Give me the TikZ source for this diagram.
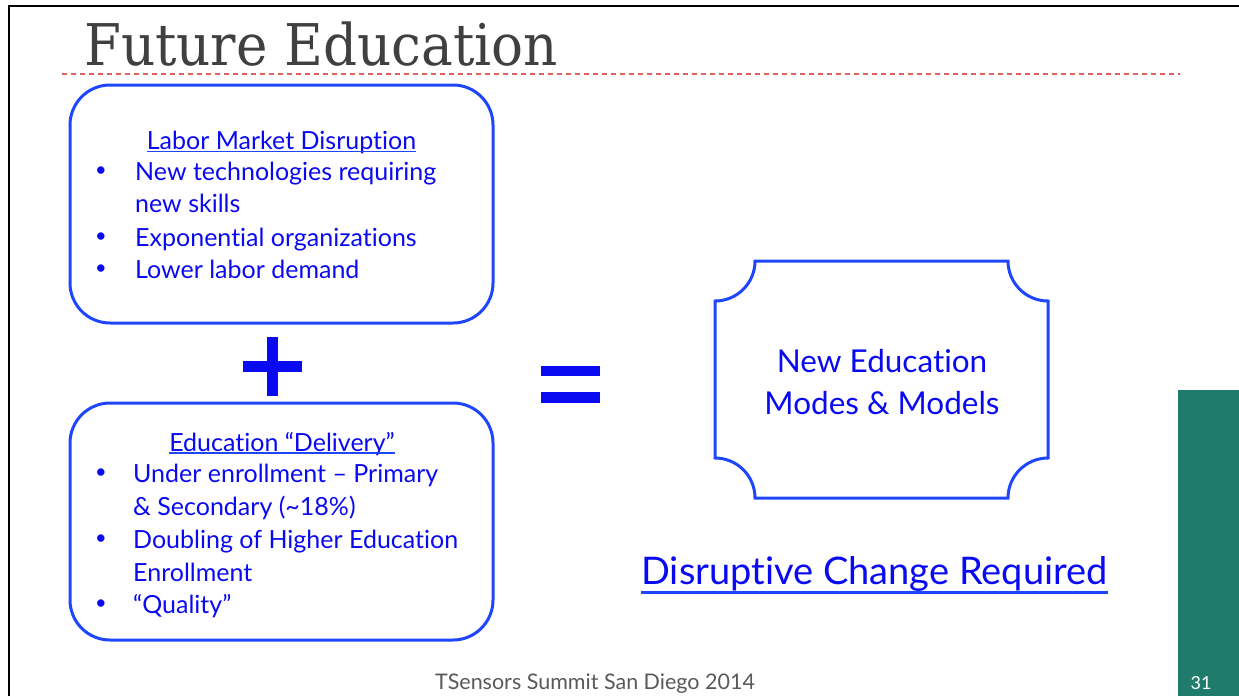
\documentclass[tikz,border=0pt]{standalone}
\usepackage{fontspec}
\setmainfont{DejaVu Serif}
\newfontfamily\titlefont[FakeStretch=0.925]{DejaVu Serif}
\newfontfamily\gill[Ligatures=NoCommon]{Lato}
\usetikzlibrary{positioning}
\definecolor{inkblue}{HTML}{0A0AF2}
\definecolor{edgeblue}{HTML}{1E46FF}
\definecolor{titlegray}{HTML}{404040}
\definecolor{footgray}{HTML}{595959}
\definecolor{dashred}{HTML}{E06060}
\definecolor{slidegreen}{HTML}{1F7B6C}

\begin{document}
\begin{tikzpicture}[x=1pt,y=-1pt,
		panel/.style={draw=edgeblue,line width=3pt,rounded corners=40pt},
		bodytext/.style={inner sep=0pt,text=inkblue,font=\gill\fontsize{25}{30}\selectfont},
		head/.style={bodytext,anchor=base},
		item/.style={bodytext,anchor=base west},
		dotmark/.style={inner sep=0pt,text=inkblue,font=\gill\fontsize{20}{20}\selectfont},
		bigtext/.style={inner sep=0pt,anchor=base,text=inkblue,font=\gill\fontsize{31.5}{36}\selectfont},
		bar/.style={fill=inkblue}]
		\newcommand{\entry}[4]{\node[dotmark] (#1d) at (101,#2-8) {\textbullet};
			\node[item] (#1) at (#3,#2) {#4};}
		\newcommand{\uline}[3]{\draw[edgeblue,line width=#3] ([yshift=-#2]#1.base west) -- ([yshift=-#2]#1.base east);}
		
		\useasboundingbox (0,0) rectangle (1239,696);
		
		% slide frame
		\draw[line width=2.5pt] (9,696) -- (9,6) -- (1239,6);
		\fill[slidegreen] (1178,390) rectangle (1239,696);
		\node[anchor=base,inner sep=0pt,text=white,font=\gill\fontsize{18}{22}\selectfont] (page) at (1201,689) {31};
		
		\node[anchor=base west,inner sep=0pt,text=titlegray,font=\titlefont\fontsize{57.5}{64}\selectfont] (title) at (84,65) {Future Education};
		\draw[dashred,line width=1.2pt,dash pattern=on 5pt off 4pt] (62,74) -- (1180,74);
		
		% labour market box
		\draw[panel] (70,85) rectangle (493,323);
		\node[head] (labor) at (281.5,149) {Labor Market Disruption};
		\uline{labor}{2.5pt}{1.5pt}
		\entry{l1}{180}{135}{New technologies requiring}
		\node[item] (l1b) at (135,212) {new skills};
		\entry{l2}{246}{135}{Exponential organizations}
		\entry{l3}{278}{135}{Lower labor demand}
		
		% plus
		\fill[bar] (267,337) rectangle (278,396);
		\fill[bar] (243,361) rectangle (302,372);
		
		% delivery box
		\draw[panel] (70,403) rectangle (493,640);
		\node[head] (delivery) at (282,451) {Education “Delivery”};
		\uline{delivery}{2pt}{1.5pt}
		\entry{d1}{482}{133}{Under enrollment – Primary}
		\node[item] (d1b) at (133,515) {\& Secondary (\textasciitilde 18\%)};
		\entry{d2}{548}{133}{Doubling of Higher Education}
		\node[item] (d2b) at (133,581) {Enrollment};
		\entry{d3}{613}{133}{“Quality”}
		
		% equals
		\fill[bar] (541,366) rectangle (600,376);
		\fill[bar] (541,392) rectangle (600,403);
		
		% result plaque
		\begin{scope}[shift={(715,261)}]
			\draw[edgeblue,line width=3pt] (40,0) -- (293,0)
				.. controls (293,22.1) and (310.9,40) .. (333,40) -- (333,197)
				.. controls (310.9,197) and (293,214.9) .. (293,237) -- (40,237)
				.. controls (40,214.9) and (22.1,197) .. (0,197) -- (0,40)
				.. controls (22.1,40) and (40,22.1) .. (40,0) -- cycle;
		\end{scope}
		\node[bigtext] (modes1) at (882,372) {New Education};
		\node[bigtext] (modes2) at (882,414) {Modes \& Models};
		
		\node[bigtext,font=\gill\fontsize{38}{44}\selectfont] (change) at (874.5,584) {Disruptive Change Required};
		\uline{change}{8pt}{3pt}
		
		\node[anchor=base,inner sep=0pt,text=footgray,font=\gill\fontsize{21.5}{24}\selectfont] (foot) at (595,689) {TSensors Summit San Diego 2014};
	\end{tikzpicture}
\end{document}
